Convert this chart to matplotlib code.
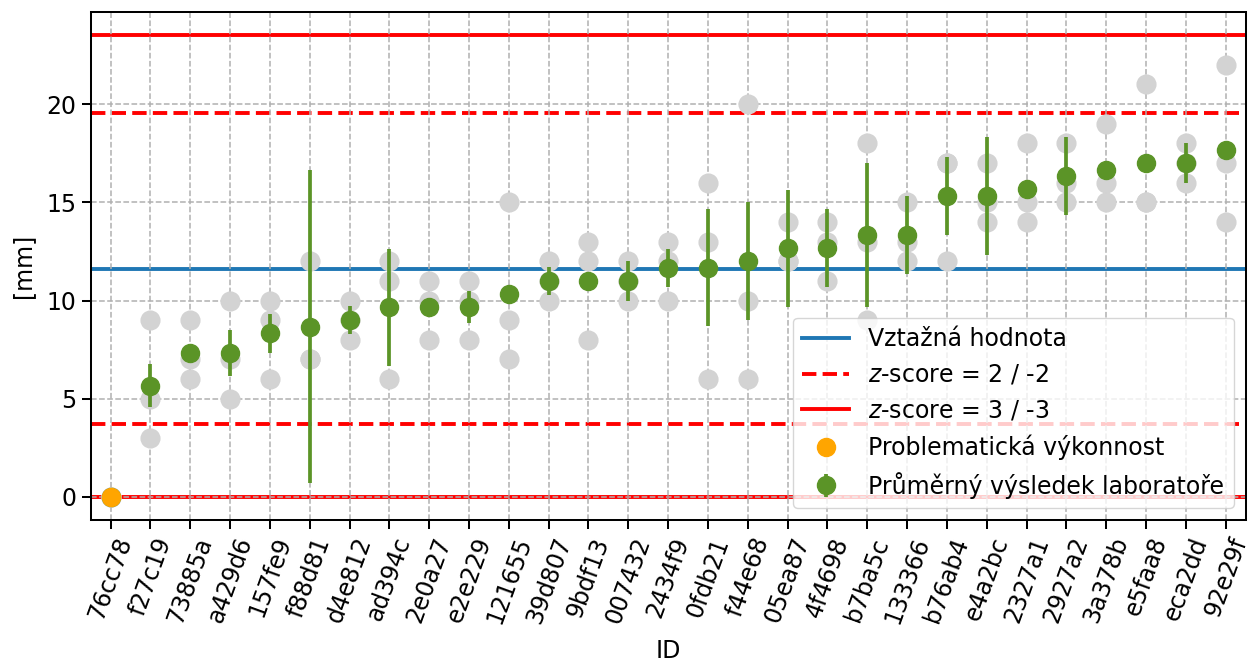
import numpy as np
import matplotlib
matplotlib.use("Agg")
import matplotlib.pyplot as plt

# lab IDs (sorted by mean result)
ids = ['76cc78', 'f27c19', '73885a', 'a429d6', '157fe9', 'f88d81', 'd4e812',
       'ad394c', '2e0a27', 'e2e229', '121655', '39d807', '9bdf13', '007432',
       '2434f9', '0fdb21', 'f44e68', '05ea87', '4f4698', 'b7ba5c', '133366',
       'b76ab4', 'e4a2bc', '2327a1', '2927a2', '3a378b', 'e5faa8', 'eca2dd',
       '92e29f']

# individual results of each lab (3 repeats)
results = [
    [0, 0, 0], [9, 5, 3], [9, 7, 6], [10, 7, 5], [10, 9, 6], [12, 7, 7],
    [10, 9, 8], [12, 11, 6], [11, 10, 8], [11, 10, 8], [15, 9, 7],
    [12, 11, 10], [13, 12, 8], [12, 11, 10], [13, 12, 10], [16, 13, 6],
    [20, 10, 6], [14, 12, 12], [14, 13, 11], [18, 13, 9], [15, 13, 12],
    [17, 17, 12], [17, 15, 14], [18, 15, 14], [18, 16, 15], [19, 16, 15],
    [21, 15, 15], [18, 17, 16], [22, 17, 14],
]

# error bar half-widths
errors = [0, 1.1, 0, 1.18, 1.0, 7.97, 0.7, 2.98, 0, 0.8, 0, 0.7, 0, 1.0,
          0.98, 2.98, 3.0, 2.98, 1.98, 3.67, 2.0, 2.0, 3.0, 0, 2.0, 0, 0, 1.0, 0]

problem_ids = ['76cc78']

ref_value = 11.63
z2_lines = [19.55, 3.70]
z3_lines = [23.52, 0.0]

means = [np.mean(r) for r in results]
x = np.arange(len(ids))

green = '#5b9427'

plt.rcParams['font.size'] = 17

fig, ax = plt.subplots(figsize=(12.5, 6.62), dpi=100)
fig.subplots_adjust(left=0.0725, right=0.9965, top=0.982, bottom=0.2145)

# reference lines
ax.axhline(ref_value, color='#1f77b4', lw=2.8, zorder=1, label='Vztažná hodnota')
for i, v in enumerate(z2_lines):
    ax.axhline(v, color='red', ls='--', lw=2.8, zorder=1,
               label='$z$-score = 2 / -2' if i == 0 else None)
for i, v in enumerate(z3_lines):
    ax.axhline(v, color='red', ls='-', lw=2.8, zorder=1,
               label='$z$-score = 3 / -3' if i == 0 else None)

# individual results
for xi, r in zip(x, results):
    ax.plot([xi] * len(r), r, 'o', color='lightgrey', markersize=13.5,
            zorder=2)

# lab means
ax.errorbar(x, means, yerr=errors, fmt='o', color=green, markersize=13,
            elinewidth=2.7, capsize=0, zorder=3,
            label='Průměrný výsledek laboratoře')

# problematic labs
px = [ids.index(p) for p in problem_ids]
py = [means[i] for i in px]
ax.plot(px, py, 'o', color='orange', markersize=13, zorder=4,
        label='Problematická výkonnost')

ax.set_xticks(x)
ax.set_xticklabels(ids, rotation=70)
ax.set_xlim(-0.5, len(ids) - 0.5)
ax.set_yticks([0, 5, 10, 15, 20])
ax.grid(True, ls='--', color='#b0b0b0', lw=1.1, zorder=1.5)
ax.tick_params(length=6.5, width=1.45)
for s in ax.spines.values():
    s.set_linewidth(1.45)

ax.set_xlabel('ID', labelpad=9)
ax.set_ylabel('[mm]', labelpad=8)

h, l = ax.get_legend_handles_labels()
order = ['Vztažná hodnota', '$z$-score = 2 / -2', '$z$-score = 3 / -3',
         'Problematická výkonnost', 'Průměrný výsledek laboratoře']
hl = {lab: hh for hh, lab in zip(h, l)}
ax.legend([hl[o] for o in order], order, loc='lower right')

fig.savefig('out.png', dpi=100)
